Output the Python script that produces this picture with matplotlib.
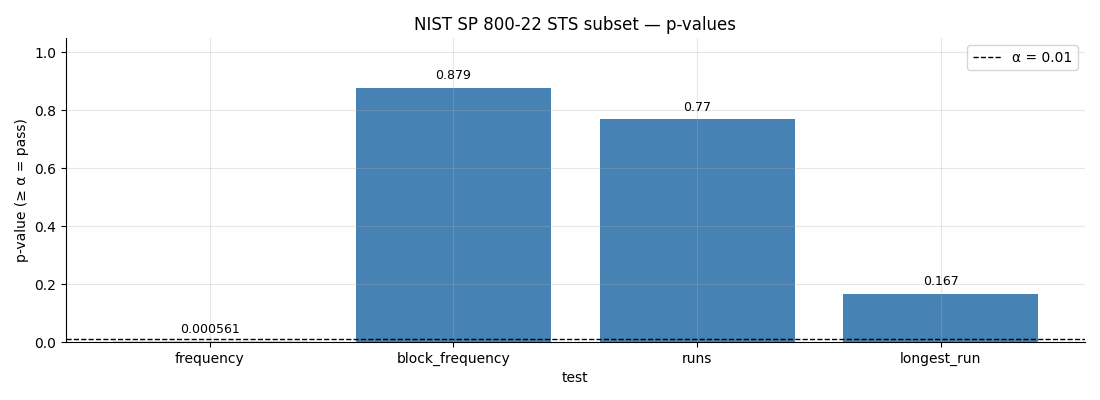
import matplotlib
matplotlib.use("Agg")
import matplotlib.pyplot as plt

tests = ["frequency", "block_frequency", "runs", "longest_run"]
pvalues = [0.000561, 0.879, 0.77, 0.167]
labels = ["0.000561", "0.879", "0.77", "0.167"]
alpha = 0.01

fig, ax = plt.subplots(figsize=(11, 4), dpi=100)
colors = ["#c0282d" if p < alpha else "steelblue" for p in pvalues]
edge_w = [1.0 if p < alpha else 0 for p in pvalues]
bars = ax.bar(tests, pvalues, color=colors, edgecolor=colors, linewidth=edge_w, width=0.8)
ax.axhline(alpha, color="black", linestyle="--", linewidth=1, label="α = 0.01")
for b, lab in zip(bars, labels):
    ax.annotate(lab, (b.get_x() + b.get_width() / 2, b.get_height()),
                xytext=(0, 4), textcoords="offset points",
                ha="center", va="bottom", fontsize=9)
ax.set_ylim(0, 1.05)
ax.set_xlabel("test")
ax.set_ylabel("p-value (≥ α = pass)")
ax.set_title("NIST SP 800-22 STS subset — p-values")
ax.grid(alpha=0.3)
ax.spines["top"].set_visible(False)
ax.spines["right"].set_visible(False)
ax.legend(loc="upper right")
fig.subplots_adjust(left=0.06, right=0.986, top=0.905, bottom=0.145)
fig.savefig("out.png")
